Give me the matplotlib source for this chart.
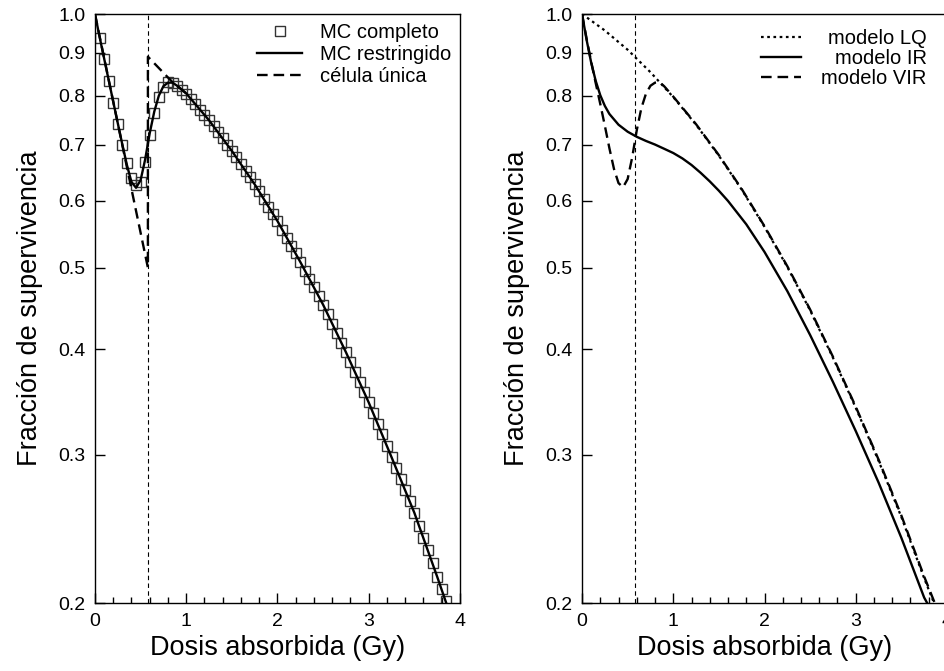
import numpy as np
import matplotlib
matplotlib.use('Agg')
from matplotlib import pyplot as plt
from matplotlib.ticker import FixedLocator, FixedFormatter, NullLocator, MultipleLocator

plt.rcParams['font.family'] = ['Liberation Sans', 'DejaVu Sans']

# --- panel izquierdo: MC completo (cuadrados), MC restringido, célula única
d_mc = np.round(np.arange(1, 78) * 0.05, 2)
s_mc = [0.937, 0.884, 0.832, 0.785, 0.740, 0.700, 0.665, 0.638, 0.627, 0.632,
        0.668, 0.718, 0.762, 0.798, 0.820, 0.830, 0.829, 0.822, 0.813, 0.804,
        0.793, 0.782, 0.770, 0.759, 0.748, 0.736, 0.724, 0.712, 0.700, 0.688,
        0.676, 0.663, 0.651, 0.640, 0.628, 0.616, 0.603, 0.591, 0.579, 0.568,
        0.555, 0.543, 0.531, 0.520, 0.508, 0.496, 0.485, 0.474, 0.463, 0.452,
        0.440, 0.429, 0.418, 0.407, 0.397, 0.386, 0.376, 0.366, 0.356, 0.346,
        0.336, 0.326, 0.317, 0.307, 0.298, 0.289, 0.281, 0.272, 0.264, 0.256,
        0.247, 0.239, 0.231, 0.223, 0.215, 0.208, 0.201]

d_rest = [0, 0.05, 0.1, 0.15, 0.2, 0.25, 0.3, 0.35, 0.4, 0.45, 0.5, 0.55, 0.6,
          0.65, 0.7, 0.75, 0.8, 0.85, 0.9, 1.0, 1.25, 1.5, 1.75, 2.0, 2.25, 2.5,
          2.75, 3.0, 3.25, 3.5, 3.75, 3.85, 3.9]
s_rest = [1.0, 0.94, 0.886, 0.835, 0.787, 0.742, 0.70, 0.662, 0.632, 0.622,
          0.635, 0.672, 0.722, 0.766, 0.800, 0.821, 0.829, 0.829, 0.822, 0.805,
          0.748, 0.688, 0.628, 0.568, 0.508, 0.452, 0.397, 0.346, 0.298, 0.256,
          0.215, 0.200, 0.193]

d_cel = [0, 0.58, 0.58, 0.85, 0.9, 1.0]
s_cel = [1.0, 0.50, 0.89, 0.830, 0.822, 0.805]

d_umbral = 0.58  # línea vertical

# --- panel derecho: modelos LQ, IR, VIR
d_lq = [0, 0.25, 0.5, 0.75, 1.0, 1.25, 1.5, 1.75, 2.0, 2.25, 2.5, 2.75, 3.0,
        3.25, 3.5, 3.75, 3.85, 3.9]
s_lq = [1.0, 0.956, 0.907, 0.853, 0.797, 0.739, 0.679, 0.619, 0.559, 0.501,
        0.445, 0.391, 0.341, 0.295, 0.253, 0.214, 0.201, 0.195]

d_ir = [0, 0.05, 0.1, 0.15, 0.2, 0.25, 0.3, 0.4, 0.5, 0.6, 0.7, 0.8, 0.9, 1.0,
        1.1, 1.2, 1.3, 1.4, 1.5, 1.6, 1.8, 2.0, 2.25, 2.5, 2.75, 3.0, 3.25,
        3.5, 3.75, 3.85]
s_ir = [1.0, 0.932, 0.876, 0.833, 0.801, 0.778, 0.761, 0.739, 0.725, 0.715,
        0.707, 0.700, 0.692, 0.684, 0.674, 0.662, 0.648, 0.633, 0.617, 0.600,
        0.563, 0.522, 0.469, 0.416, 0.366, 0.320, 0.278, 0.239, 0.203, 0.194]

d_vir = [0, 0.05, 0.1, 0.15, 0.2, 0.25, 0.3, 0.35, 0.4, 0.45, 0.5, 0.55, 0.6,
         0.65, 0.7, 0.75, 0.8, 0.85, 0.9, 1.0, 1.25, 1.5, 1.75, 2.0, 2.25, 2.5,
         2.75, 3.0, 3.25, 3.5, 3.75, 3.85, 3.9]
s_vir = [1.0, 0.935, 0.878, 0.828, 0.782, 0.737, 0.693, 0.655, 0.630, 0.623,
         0.637, 0.676, 0.728, 0.773, 0.804, 0.822, 0.829, 0.830, 0.821, 0.798,
         0.740, 0.680, 0.620, 0.560, 0.502, 0.446, 0.392, 0.342, 0.296, 0.254,
         0.215, 0.202, 0.196]

y_ticks = [0.2, 0.3, 0.4, 0.5, 0.6, 0.7, 0.8, 0.9, 1.0]
y_labels = ['0.2', '0.3', '0.4', '0.5', '0.6', '0.7', '0.8', '0.9', '1.0']
x_ticks = [0, 1, 2, 3, 4]

fig = plt.figure(figsize=(9.45, 6.71), dpi=100)
ax1 = fig.add_axes([0.1005, 0.1013, 0.3862, 0.8778])
ax2 = fig.add_axes([0.6159, 0.1013, 0.3862, 0.8778])

def estilo(ax):
    ax.set_yscale('log')
    ax.set_xlim(0, 4)
    ax.set_ylim(0.2, 1.0)
    ax.yaxis.set_major_locator(FixedLocator(y_ticks))
    ax.yaxis.set_major_formatter(FixedFormatter(y_labels))
    ax.yaxis.set_minor_locator(NullLocator())
    ax.xaxis.set_major_locator(FixedLocator(x_ticks))
    ax.xaxis.set_minor_locator(MultipleLocator(0.2))
    ax.tick_params(which='both', direction='in', top=False, right=False,
                   labelsize=14, width=1.0, pad=7)
    ax.tick_params(which='major', length=7)
    ax.tick_params(which='minor', length=4)
    for s in ax.spines.values():
        s.set_linewidth(1.0)
    ax.set_xlabel('Dosis absorbida (Gy)', fontsize=19.5, labelpad=4)
    ax.set_ylabel('Fracción de supervivencia', fontsize=19.5, labelpad=11)
    ax.axvline(d_umbral, color='k', lw=0.8, ls=(0, (4, 3)))

estilo(ax1)
estilo(ax2)

# panel izquierdo
ax1.plot(d_mc, s_mc, ls='none', marker='s', ms=6.5, mfc='none', mec='#333333',
         mew=1.0, label='MC completo')
ax1.plot(d_rest, s_rest, 'k-', lw=1.7, label='MC restringido')
ax1.plot(d_cel, s_cel, color='k', lw=1.7, ls=(0, (4.5, 2.5)), label='célula única')
ax1.legend(loc='upper left', bbox_to_anchor=(0.445, 0.985), frameon=False,
           fontsize=14.5, handlelength=2.2, handletextpad=0.9, labelspacing=0.15,
           borderaxespad=0, borderpad=0, numpoints=1)

# panel derecho
ax2.plot(d_lq, s_lq, color='k', lw=1.6, ls=(0, (1.2, 1.6)), label='modelo LQ')
ax2.plot(d_ir, s_ir, 'k-', lw=1.7, label='modelo IR')
ax2.plot(d_vir, s_vir, color='k', lw=1.7, ls=(0, (4.5, 2.5)), label='modelo VIR')
leg = ax2.legend(loc='upper left', bbox_to_anchor=(0.49, 0.975), frameon=False,
                 fontsize=14.5, handlelength=2.0, handletextpad=1.0,
                 labelspacing=0.05, borderaxespad=0, borderpad=0)

# texto de la leyenda alineado a la derecha
fig.canvas.draw()
r = fig.canvas.get_renderer()
anchos = [t.get_window_extent(r).width for t in leg.get_texts()]
for t, w in zip(leg.get_texts(), anchos):
    t.set_position((max(anchos) - w, 0))

fig.savefig('out.png', dpi=100)
